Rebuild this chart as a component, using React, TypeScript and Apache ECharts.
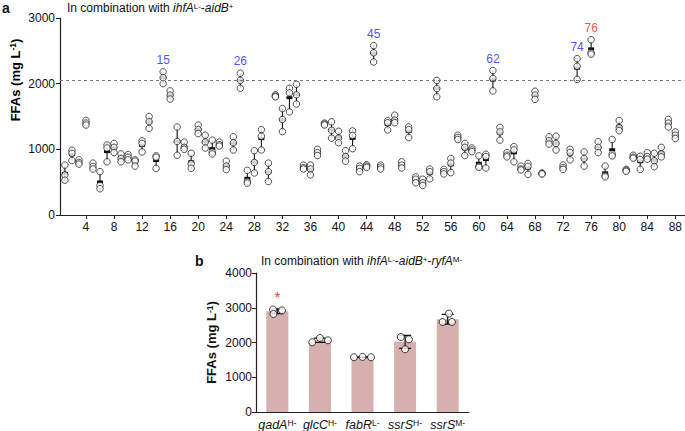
import React, { useEffect, useRef } from "react";
import * as echarts from "echarts";

const FONT = '"Liberation Sans", Arial, Helvetica, sans-serif';

// Panel a: three replicate FFA titres (mg/L) for strains 1..88
const rep1 = [760, 985, 840, 1440, 790, 660, 1065, 1090, 930, 920, 840, 1130, 1500, 900, 2180, 1890, 1340, 1110, 940, 1370, 1215, 1140, 1110, 820, 1190, 2160, 680, 980, 1300, 790, 1830, 1620, 1930, 1990, 760, 760, 1000, 1400, 1420, 1275, 980, 1280, 745, 765, 2580, 760, 1435, 1520, 810, 1340, 580, 545, 700, 2050, 695, 860, 1215, 1090, 1020, 900, 925, 2200, 1335, 950, 1040, 745, 785, 1885, 640, 1190, 1200, 760, 1000, 2380, 960, 2670, 1115, 745, 1150, 1440, 695, 910, 895, 950, 940, 1030, 1455, 1265];
const rep2 = [610, 940, 800, 1400, 740, 450, 1020, 1030, 860, 880, 820, 1090, 1420, 880, 2090, 1825, 1120, 1030, 780, 1300, 1110, 960, 1070, 745, 1100, 2050, 510, 800, 1200, 660, 1810, 1455, 1860, 1830, 720, 700, 950, 1385, 1290, 1170, 890, 1210, 710, 745, 2470, 730, 1405, 1445, 760, 1300, 545, 490, 660, 1925, 660, 790, 1180, 1030, 990, 740, 890, 2080, 1265, 910, 990, 700, 740, 1825, 630, 1130, 1090, 720, 950, 2265, 860, 2470, 1030, 600, 930, 1330, 680, 880, 845, 890, 825, 930, 1400, 1215];
const rep3 = [530, 830, 775, 1370, 700, 400, 810, 950, 810, 840, 745, 960, 1320, 710, 2000, 1765, 910, 1000, 710, 1240, 1020, 930, 1050, 690, 990, 1930, 485, 640, 990, 510, 1800, 1270, 1570, 1690, 700, 610, 905, 1370, 1170, 1100, 820, 1010, 660, 725, 2330, 700, 1295, 1405, 715, 1180, 490, 450, 550, 1800, 625, 645, 1150, 905, 965, 725, 715, 1890, 1140, 885, 810, 685, 620, 1760, 625, 1080, 990, 695, 840, 2065, 745, 2450, 950, 580, 900, 1285, 665, 865, 695, 850, 735, 885, 1340, 1165];
const xTickValues = [4, 8, 12, 16, 20, 24, 28, 32, 36, 40, 44, 48, 52, 56, 60, 64, 68, 72, 76, 80, 84, 88];
const threshold = 2050;
const highlightBlue = [15, 26, 45, 62, 74];
const highlightRed = [76];

// Panel b
const bCategories = ["gadA", "glcC", "fabR", "ssrS", "ssrS"];
const bSuperscripts = ["H-", "H-", "L-", "H-", "M-"];
const bRep1 = [2950, 2006, 1575, 2158, 2832];
const bRep2 = [2820, 2130, 1585, 2092, 2590];
const bRep3 = [2925, 2063, 1575, 1804, 2590];
const bJitter = [
  [-0.1, -0.09, 0.11],
  [-0.18, 0, 0.19],
  [-0.2, 0, 0.2],
  [-0.1, 0.09, 0],
  [0.03, -0.12, 0.1],
];
const bSignificant = [true, false, false, false, false];

function mean(a: number[]) {
  return a.reduce((s, v) => s + v, 0) / a.length;
}
function sd(a: number[]) {
  const m = mean(a);
  return Math.sqrt(a.reduce((s, v) => s + (v - m) * (v - m), 0) / (a.length - 1));
}

export default function App() {
  const ref = useRef<HTMLDivElement>(null);
  useEffect(() => {
    if (!ref.current) return;
    const chart = echarts.init(ref.current, undefined, { renderer: "svg" });

    const reps = rep1.map((_, i) => [rep1[i], rep2[i], rep3[i]]);
    const scatterA: number[][] = [];
    reps.forEach((r, i) => r.forEach((v) => scatterA.push([i + 1, v])));
    const statsA = reps.map((r, i) => {
      const m = mean(r);
      const s = sd(r);
      return [i + 1, m, m - s, m + s];
    });
    const maxA = reps.map((r) => Math.max(...r));

    const bReps = bRep1.map((_, i) => [bRep1[i], bRep2[i], bRep3[i]]);
    const bMeans = bReps.map((r) => mean(r));
    const bLines = bReps.map((r, i) => {
      const m = mean(r);
      const s = sd(r);
      return [i, m - s, m + s];
    });
    const bScatter: number[][] = [];
    bReps.forEach((r, i) => r.forEach((v, j) => bScatter.push([i + bJitter[i][j], v])));

    const supRich = {
      n: { fontSize: 12, fontFamily: FONT, fontWeight: "normal", color: "#111" },
      i: { fontSize: 12, fontFamily: FONT, fontWeight: "normal", fontStyle: "italic", color: "#111" },
      s: { fontSize: 8, fontFamily: FONT, fontWeight: "normal", color: "#111", verticalAlign: "top", lineHeight: 10 },
    };
    const yNameRich = {
      b: { fontSize: 13, fontFamily: FONT, fontWeight: "bold", color: "#111" },
      s: { fontSize: 8.5, fontFamily: FONT, fontWeight: "bold", color: "#111", verticalAlign: "top", lineHeight: 10 },
    };

    const axisLineStyle = { onZero: false, lineStyle: { color: "#222", width: 1.2 } };
    const labelStyle = { fontSize: 12, fontFamily: FONT, color: "#111" };
    const plain = (v: number) => String(v);

    const option: any = {
      animation: false,
      backgroundColor: "#fff",
      title: [
        { text: "a", left: 2, top: 1, padding: 0, textStyle: { fontSize: 14, fontWeight: "bold", fontFamily: FONT, color: "#111" } },
        {
          text: "{n|In combination with }{i|ihfA}{s|L-}{n|-}{i|aidB}{s|+}",
          left: 67, top: 2, padding: 0,
          textStyle: { fontWeight: "normal", rich: supRich },
        },
        { text: "b", left: 195, top: 254, padding: 0, textStyle: { fontSize: 14, fontWeight: "bold", fontFamily: FONT, color: "#111" } },
        {
          text: "{n|In combination with }{i|ihfA}{s|L-}{n|-}{i|aidB}{s|+}{n|-}{i|ryfA}{s|M-}",
          left: 261, top: 255, padding: 0,
          textStyle: { fontWeight: "normal", rich: supRich },
        },
      ],
      graphic: [
        {
          type: "text", x: 15, y: 80, rotation: Math.PI / 2,
          style: { text: "{b|FFAs (mg L}{s|-1}{b|)}", rich: yNameRich, align: "center", verticalAlign: "middle" },
        },
      ],
      grid: [
        { left: 60, right: 0, top: 18, height: 197 },
        { left: 256, top: 273, height: 139, width: 213 },
      ],
      xAxis: [
        {
          gridIndex: 0, type: "value", min: 0.3, max: 89.3,
          axisLine: axisLineStyle,
          axisTick: { customValues: xTickValues, length: 4, lineStyle: { color: "#222" } },
          axisLabel: { customValues: xTickValues, margin: 6, ...labelStyle },
          splitLine: { show: false },
        },
        {
          gridIndex: 1, type: "value", min: -0.5, max: 4.5,
          axisLine: axisLineStyle,
          axisTick: { show: false },
          axisLabel: {
            customValues: [0, 1, 2, 3, 4], margin: 6,
            formatter: (v: number) => {
              const k = Math.round(v);
              return `{i|${bCategories[k]}}{s|${bSuperscripts[k]}}`;
            },
            rich: {
              i: { fontSize: 12.5, fontFamily: FONT, fontStyle: "italic", color: "#111" },
              s: { fontSize: 8.5, fontFamily: FONT, color: "#111", verticalAlign: "top", lineHeight: 10 },
            },
          },
          splitLine: { show: false },
        },
      ],
      yAxis: [
        {
          gridIndex: 0, type: "value", min: 0, max: 3000, interval: 1000,
          axisLine: { show: true, ...axisLineStyle },
          axisTick: { show: true, length: 4, lineStyle: { color: "#222" } },
          axisLabel: { margin: 5, formatter: plain, ...labelStyle },
          splitLine: { show: false },
        },
        {
          gridIndex: 1, type: "value", min: 0, max: 4000, interval: 1000,
          axisLine: { show: true, ...axisLineStyle },
          axisTick: { show: true, length: 4, lineStyle: { color: "#222" } },
          axisLabel: { margin: 4, formatter: plain, ...labelStyle },
          splitLine: { show: false },
          name: "{b|FFAs (mg L}{s|-1}{b|)}",
          nameLocation: "middle", nameGap: 38,
          nameTextStyle: { rich: yNameRich },
        },
      ],
      series: [
        // panel a: error lines
        {
          type: "custom", xAxisIndex: 0, yAxisIndex: 0, z: 1,
          data: statsA,
          renderItem: (params: any, api: any) => {
            const x = api.value(0);
            const p1 = api.coord([x, api.value(2)]);
            const p2 = api.coord([x, api.value(3)]);
            return {
              type: "line",
              shape: { x1: p1[0], y1: p1[1], x2: p2[0], y2: p2[1] },
              style: { stroke: "#111", lineWidth: 1.1 },
            };
          },
          markLine: {
            silent: true, symbol: "none",
            label: { show: false },
            lineStyle: { color: "#777", type: [3, 3], width: 1 },
            data: [{ yAxis: threshold }],
          },
        },
        // panel a: mean marks (under the circles)
        {
          type: "custom", xAxisIndex: 0, yAxisIndex: 0, z: 2,
          data: statsA,
          renderItem: (params: any, api: any) => {
            const p = api.coord([api.value(0), api.value(1)]);
            return {
              type: "rect",
              shape: { x: p[0] - 3, y: p[1] - 1.5, width: 6, height: 3 },
              style: { fill: "#111" },
            };
          },
        },
        // panel a: replicate circles
        {
          type: "scatter", xAxisIndex: 0, yAxisIndex: 0, z: 3,
          symbol: "circle", symbolSize: 6.5,
          itemStyle: { color: "#fff", borderColor: "#111", borderWidth: 0.9 },
          data: scatterA,
        },
        // panel a: highlight labels
        {
          type: "scatter", xAxisIndex: 0, yAxisIndex: 0, z: 4,
          symbolSize: 6, itemStyle: { color: "rgba(0,0,0,0)" },
          silent: true,
          data: highlightBlue.map((s) => [s, maxA[s - 1]]),
          label: {
            show: true, position: "top", distance: 3,
            formatter: (p: any) => String(p.value[0]),
            color: "#2323ff", fontSize: 12, fontFamily: FONT,
          },
        },
        {
          type: "scatter", xAxisIndex: 0, yAxisIndex: 0, z: 4,
          symbolSize: 6, itemStyle: { color: "rgba(0,0,0,0)" },
          silent: true,
          data: highlightRed.map((s) => [s, maxA[s - 1]]),
          label: {
            show: true, position: "top", distance: 3,
            formatter: (p: any) => String(p.value[0]),
            color: "#ff2323", fontSize: 12, fontFamily: FONT,
          },
        },
        // panel b: bars (asterisk marks significance)
        {
          type: "bar", xAxisIndex: 1, yAxisIndex: 1, z: 1,
          barWidth: 22,
          itemStyle: { color: "#d6afaf" },
          data: bMeans.map((m, i) => ({
            value: [i, m],
            label: {
              show: bSignificant[i], position: "top", distance: 7,
              formatter: "*", color: "#ff3030", fontSize: 15, fontFamily: FONT,
            },
          })),
        },
        // panel b: error bars with caps
        {
          type: "custom", xAxisIndex: 1, yAxisIndex: 1, z: 2,
          data: bLines,
          renderItem: (params: any, api: any) => {
            const x = api.value(0);
            const p1 = api.coord([x, api.value(1)]);
            const p2 = api.coord([x, api.value(2)]);
            const w = 6;
            return {
              type: "polyline",
              shape: {
                points: [
                  [p1[0] - w, p1[1]], [p1[0] + w, p1[1]], [p1[0], p1[1]],
                  [p2[0], p2[1]], [p2[0] - w, p2[1]], [p2[0] + w, p2[1]],
                ],
              },
              style: { stroke: "#111", lineWidth: 1.2, fill: "none" },
            };
          },
        },
        // panel b: replicate circles
        {
          type: "scatter", xAxisIndex: 1, yAxisIndex: 1, z: 3,
          symbol: "circle", symbolSize: 7,
          itemStyle: { color: "#fff", borderColor: "#111", borderWidth: 1 },
          data: bScatter,
        },
      ],
    };
    chart.setOption(option);
    return () => chart.dispose();
  }, []);
  return <div ref={ref} style={{ width: 685, height: 431, position: "absolute", left: 0, top: 0 }} />;
}
